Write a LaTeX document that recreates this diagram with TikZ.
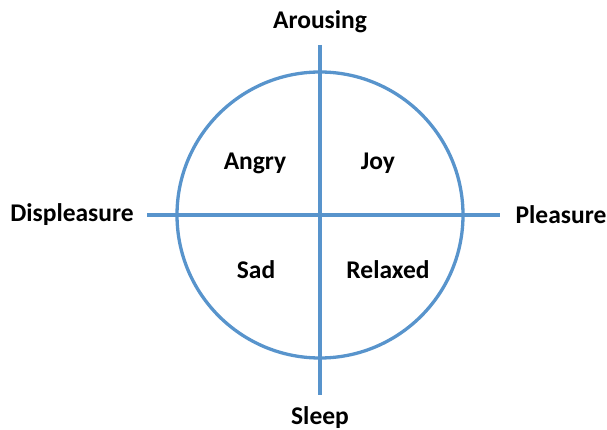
\documentclass[tikz,border=0pt]{standalone}
\usepackage{fontspec}
\setmainfont{Carlito}
\definecolor{axisblue}{RGB}{88,148,204}
\begin{document}
\begin{tikzpicture}[x=1pt,y=-1pt,
  axisline/.style={draw=axisblue,line width=3.3pt},
  lbl/.style={font=\bfseries\fontsize{25.5}{28}\selectfont,inner sep=0pt,anchor=center}]
\useasboundingbox (0,0) rectangle (607,430);
\node[circle,axisline,minimum size=286pt,inner sep=0pt] (c) at (320,215) {};
\coordinate (top) at (320,45);
\coordinate (bot) at (320,395);
\coordinate (lft) at (147,215);
\coordinate (rgt) at (500,215);
\draw[axisline] (top) -- (bot);
\draw[axisline] (lft) -- (rgt);
\node[lbl] (arousing) at (320,22) {Arousing};
\node[lbl] (sleep) at (320,418) {Sleep};
\node[lbl] (displeasure) at (72,215) {Displeasure};
\node[lbl] (pleasure) at (561,215) {Pleasure};
\node[lbl] (angry) at (255,163) {Angry};
\node[lbl] (joy) at (378,163) {Joy};
\node[lbl] (sad) at (256,270) {Sad};
\node[lbl] (relaxed) at (388,270) {Relaxed};
\end{tikzpicture}
\end{document}
